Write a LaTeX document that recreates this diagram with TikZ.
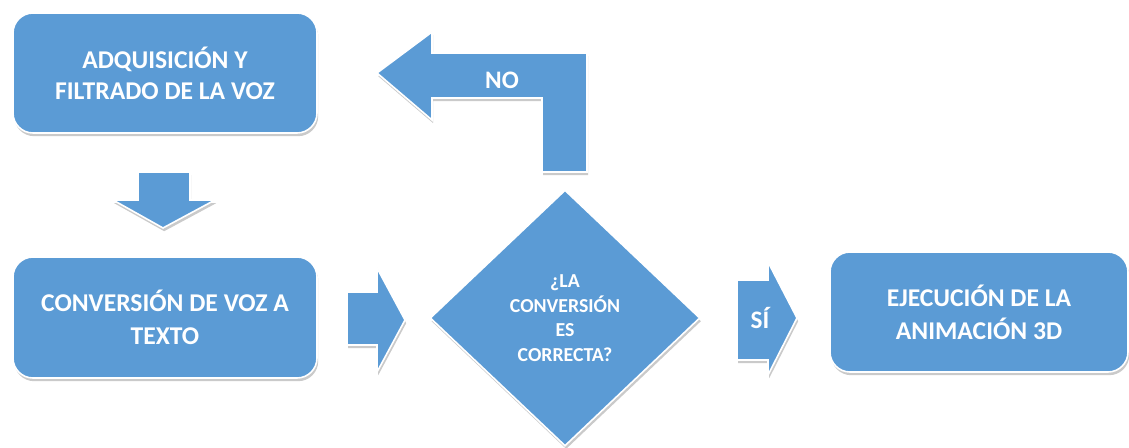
\documentclass[tikz,border=0pt]{standalone}
\usepackage{fontspec}
\setmainfont{Carlito}
\usetikzlibrary{shapes.geometric,shadows}
\definecolor{stageblue}{HTML}{5B9BD5}
\tikzset{
  softshadow/.style={drop shadow={shadow xshift=0.6pt, shadow yshift=-1.6pt, opacity=0.35, fill=black!60}},
  stagebox/.style={draw=white, line width=0.8pt, fill=stageblue, rounded corners=10pt, softshadow,
    text=white, font=\bfseries\fontsize{12.8}{16.5}\selectfont, align=center, inner sep=0pt},
  blockarrow/.style={draw=white, line width=0.8pt, fill=stageblue, softshadow},
  arrowtext/.style={text=white, font=\bfseries\fontsize{12.6}{15}\selectfont, inner sep=0pt}
}
\begin{document}
\begin{tikzpicture}[x=0.5pt, y=-0.5pt]
  \useasboundingbox (0,0) rectangle (1129,448);

  % block arrows
  \draw[blockarrow] (138,172) -- (190,172) -- (190,200) -- (215,200) -- (163,228)
    -- (113,200) -- (138,200) -- cycle;
  \draw[blockarrow] (347,292) -- (377,292) -- (377,268) -- (405,320) -- (377,372)
    -- (377,345) -- (347,345) -- cycle;
  \draw[blockarrow] (377,73) -- (432,32) -- (432,53) -- (587,53) -- (587,172)
    -- (542,172) -- (542,98) -- (432,98) -- (432,120) -- cycle;
  \draw[blockarrow] (737,280) -- (768,280) -- (768,262) -- (797,318) -- (768,375)
    -- (768,360) -- (737,360) -- cycle;
  \node[arrowtext] (no) at (502,80) {NO};
  \node[arrowtext] (si) at (760,318) {SÍ};

  % stages
  \node[stagebox, minimum width=152pt, minimum height=60pt, font=\bfseries\fontsize{12.8}{15.5}\selectfont]
    (adq) at (165,73) {ADQUISICIÓN Y\\FILTRADO DE LA VOZ};
  \node[stagebox, minimum width=152pt, minimum height=60.5pt]
    (conv) at (165,317.5) {CONVERSIÓN DE VOZ A\\TEXTO};
  \node[stagebox, minimum width=149pt, minimum height=60pt]
    (anim) at (979,312) {EJECUCIÓN DE LA\\ANIMACIÓN 3D};

  % decision
  \node[diamond, draw=white, line width=0.8pt, fill=stageblue, softshadow, text=white,
    minimum width=135pt, minimum height=128pt, inner sep=0pt, align=center,
    font=\bfseries\fontsize{9.9}{12.25}\selectfont]
    (check) at (565,318) {¿LA\\CONVERSIÓN\\ES\\CORRECTA?};
\end{tikzpicture}
\end{document}
